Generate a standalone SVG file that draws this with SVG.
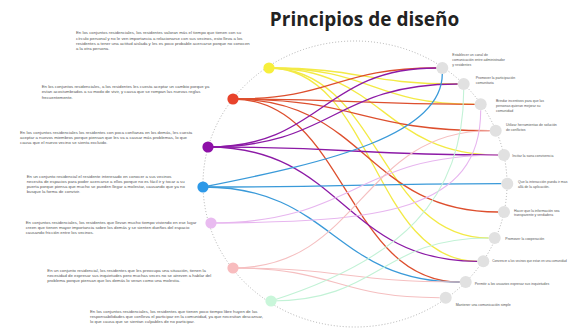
<svg xmlns="http://www.w3.org/2000/svg" width="574" height="329" viewBox="0 0 574 329">
<defs>
<style>
.t { font-family: "Liberation Sans", Arial, sans-serif; font-size: 4.3px; fill: #555; }
.l { font-family: "Liberation Sans", Arial, sans-serif; font-size: 3.5px; fill: #555; }
.title { font-family: "Open Sans", "Liberation Sans", sans-serif; font-size: 19px; font-weight: 700; fill: #222; }
.e { fill: none; stroke-width: 1.3; }
.p { fill: none; stroke-width: 1.1; }
.y { stroke: #f3ea45; }
.r { stroke: #dd4f2e; }
.pu { stroke: #8c1aa6; }
.b { stroke: #3a9ad9; }
.lv { stroke: #e7b6ef; }
.pk { stroke: #f5bfc0; }
.m { stroke: #c2f2d6; }
.gn { fill: #e1e1e1; }
</style>
</defs>
<rect width="574" height="329" fill="#ffffff"/>
<text class="title" x="364.5" y="26" text-anchor="middle">Principios de diseño</text>
<ellipse cx="355" cy="184" rx="152" ry="143" fill="none" stroke="#a8a8a8" stroke-width="0.9" stroke-dasharray="1 2"/>
<g id="connectors">
<path class="e y" d="M269,68 C363,68 363,84 457.7,84"/>
<path class="e y" d="M269,68 C372,68 372,104.3 474.7,104.3"/>
<path class="e y" d="M269,68 C383,68 383,155 498,155"/>
<path class="e y" d="M269,68 C379,68 379,238 488.7,238"/>
<path class="e y" d="M269,68 C373,68 373,261.3 477.3,261.3"/>
<path class="e r" d="M233,99 C335,99 335,68 436.3,68"/>
<path class="e r" d="M233,99 C354,99 354,104.3 474.7,104.3"/>
<path class="e r" d="M233,99 C361,99 361,130.7 489.7,130.7"/>
<path class="e r" d="M233,99 C366,99 366,212 498,212"/>
<path class="e r" d="M233,99 C346,99 346,282 459.7,282"/>
<path class="e pu" d="M208,147 C322,147 322,68 436.3,68"/>
<path class="e pu" d="M208,147 C333,147 333,84 457.7,84"/>
<path class="e pu" d="M208,147 C353,147 353,155 498,155"/>
<path class="e pu" d="M208,147 C343,147 343,261.3 477.3,261.3"/>
<path class="e b" d="M203,187 C330,162 442,135 442.3,74"/>
<path class="e b" d="M203,187 C352,187 352,183.7 501.3,183.7"/>
<path class="e b" d="M203,187 C333,187 333,282 459.7,282"/>
<path class="p lv" d="M211,223 C380,222 480.7,212 480.7,110.3"/>
<path class="p lv" d="M211,223 C355,223 355,155 498,155"/>
<path class="p pk" d="M233,268 C361,268 361,130.7 489.7,130.7"/>
<path class="p pk" d="M233,268 C346,268 346,282 459.7,282"/>
<path class="p pk" d="M233,268 C336,268 336,297.7 439.7,297.7"/>
<path class="p m" d="M271,301 C400,260 463.7,200 463.7,90"/>
<path class="p m" d="M271,301 C380,301 380,238 488.7,238"/>
</g>
<g id="problem-1">
<circle cx="269" cy="68" r="5.6" fill="#f7ef3c"/>
<text class="t" x="76" y="34.2">En los conjuntos residenciales, los residentes valoran más el tiempo que tienen con su</text>
<text class="t" x="76" y="39.6">círculo personal y no le ven importancia a relacionarse con sus vecinos, esto lleva a los</text>
<text class="t" x="76" y="45">residentes a tener una actitud aislada y les es poco probable acercarse porque no conocen</text>
<text class="t" x="76" y="50.4">a la otra persona.</text>
</g>
<g id="problem-2">
<circle cx="233" cy="99" r="5.6" fill="#e8432b"/>
<text class="t" x="41.7" y="87.8">En los conjuntos residenciales, a los residentes les cuesta aceptar un cambio porque ya</text>
<text class="t" x="41.7" y="93.4">estan acostumbrados a su modo de vivir, y causa que se rompan las nuevas reglas</text>
<text class="t" x="41.7" y="99">frecuentemente.</text>
</g>
<g id="problem-3">
<circle cx="208" cy="147" r="5.6" fill="#8e10a8"/>
<text class="t" x="20" y="133.5">En los conjuntos residenciales los residentes con poca confianza en los demás, les cuesta</text>
<text class="t" x="20" y="138.8">aceptar a nuevos miembros porque piensan que les va a causar más problemas, lo que</text>
<text class="t" x="20" y="144.1">causa que el nuevo vecino se sienta excluido.</text>
</g>
<g id="problem-4">
<circle cx="203" cy="187" r="5.6" fill="#2d99e8"/>
<text class="t" x="26.7" y="177.8">En un conjunto residencial el residente interesado en conocer a sus vecinos</text>
<text class="t" x="26.7" y="183">necesita de espacios para poder acercarse a ellos porque no es fácil ir y tocar a su</text>
<text class="t" x="26.7" y="188.2">puerta porque piensa que mucho se pueden llegar a molestar, causando que ya no</text>
<text class="t" x="26.7" y="193.4">busque la forma de convivir.</text>
</g>
<g id="problem-5">
<circle cx="211" cy="223" r="5.6" fill="#e9bbf0"/>
<text class="t" x="25.7" y="224.2">En conjuntos residenciales, los residentes que llevan mucho tiempo viviendo en ese lugar</text>
<text class="t" x="25.7" y="229.2">creen que tienen mayor importancia sobre los demás y se sienten dueños del espacio</text>
<text class="t" x="25.7" y="234.2">causando fricción entre los vecinos.</text>
</g>
<g id="problem-6">
<circle cx="233" cy="268" r="5.6" fill="#f8bcbe"/>
<text class="t" x="47.3" y="271.5">En un conjunto residencial, los residentes que les preocupa una situación, tienen la</text>
<text class="t" x="47.3" y="276.8">necesidad de expresar sus inquietudes pero muchas veces no se atreven a hablar del</text>
<text class="t" x="47.3" y="282.1">problema porque piensan que los demás lo veran como una molestia.</text>
</g>
<g id="problem-7">
<circle cx="271" cy="301" r="5.6" fill="#c9f6da"/>
<text class="t" x="90" y="313.2">En los conjuntos residenciales, los residentes que tienen poco tiempo libre huyen de las</text>
<text class="t" x="90" y="318.2">responsabilidades que conlleva el participar en la comunidad, ya que necesitan descansar,</text>
<text class="t" x="90" y="323.2">lo que causa que se sientan culpables de no participar.</text>
</g>
<g id="principle-1">
<circle class="gn" cx="442.3" cy="68" r="6"/>
<text class="l" x="452.3" y="56.3">Establecer un canal de</text>
<text class="l" x="452.3" y="61">comunicación entre administrador</text>
<text class="l" x="452.3" y="65.7">y residentes</text>
</g>
<g id="principle-2">
<circle class="gn" cx="463.7" cy="84" r="6"/>
<text class="l" x="475.7" y="79.3">Promover la participación</text>
<text class="l" x="475.7" y="84">comunitaria</text>
</g>
<g id="principle-3">
<circle class="gn" cx="480.7" cy="104.3" r="6"/>
<text class="l" x="496" y="102.3">Brindar incentivos para que las</text>
<text class="l" x="496" y="107">personas quieran mejorar su</text>
<text class="l" x="496" y="111.7">comunidad</text>
</g>
<g id="principle-4">
<circle class="gn" cx="495.7" cy="130.7" r="6"/>
<text class="l" x="506" y="126.3">Utilizar herramientas de solución</text>
<text class="l" x="506" y="131">de conflictos</text>
</g>
<g id="principle-5">
<circle class="gn" cx="504" cy="155" r="6"/>
<text class="l" x="512.3" y="156.6">Incitar la sana convivencia</text>
</g>
<g id="principle-6">
<circle class="gn" cx="507.3" cy="183.7" r="6"/>
<text class="l" x="518" y="183.3">Que la interacción pueda ir mas</text>
<text class="l" x="518" y="188">allá de la aplicación.</text>
</g>
<g id="principle-7">
<circle class="gn" cx="504" cy="212" r="6"/>
<text class="l" x="514" y="211.6">Hacer que la información sea</text>
<text class="l" x="514" y="216.3">transparente y verdadera</text>
</g>
<g id="principle-8">
<circle class="gn" cx="494.7" cy="238" r="6"/>
<text class="l" x="505.3" y="239.6">Promover la cooperación</text>
</g>
<g id="principle-9">
<circle class="gn" cx="483.3" cy="261.3" r="6"/>
<text class="l" x="492.2" y="261.6" style="font-size:3.1px">Convencer a los vecinos que estan en una comunidad</text>
</g>
<g id="principle-10">
<circle class="gn" cx="465.7" cy="282" r="6"/>
<text class="l" x="474.7" y="285">Permitir a los usuarios expresar sus inquietudes</text>
</g>
<g id="principle-11">
<circle class="gn" cx="445.7" cy="297.7" r="6"/>
<text class="l" x="455.7" y="305.6">Mantener una comunicación simple</text>
</g>
</svg>
